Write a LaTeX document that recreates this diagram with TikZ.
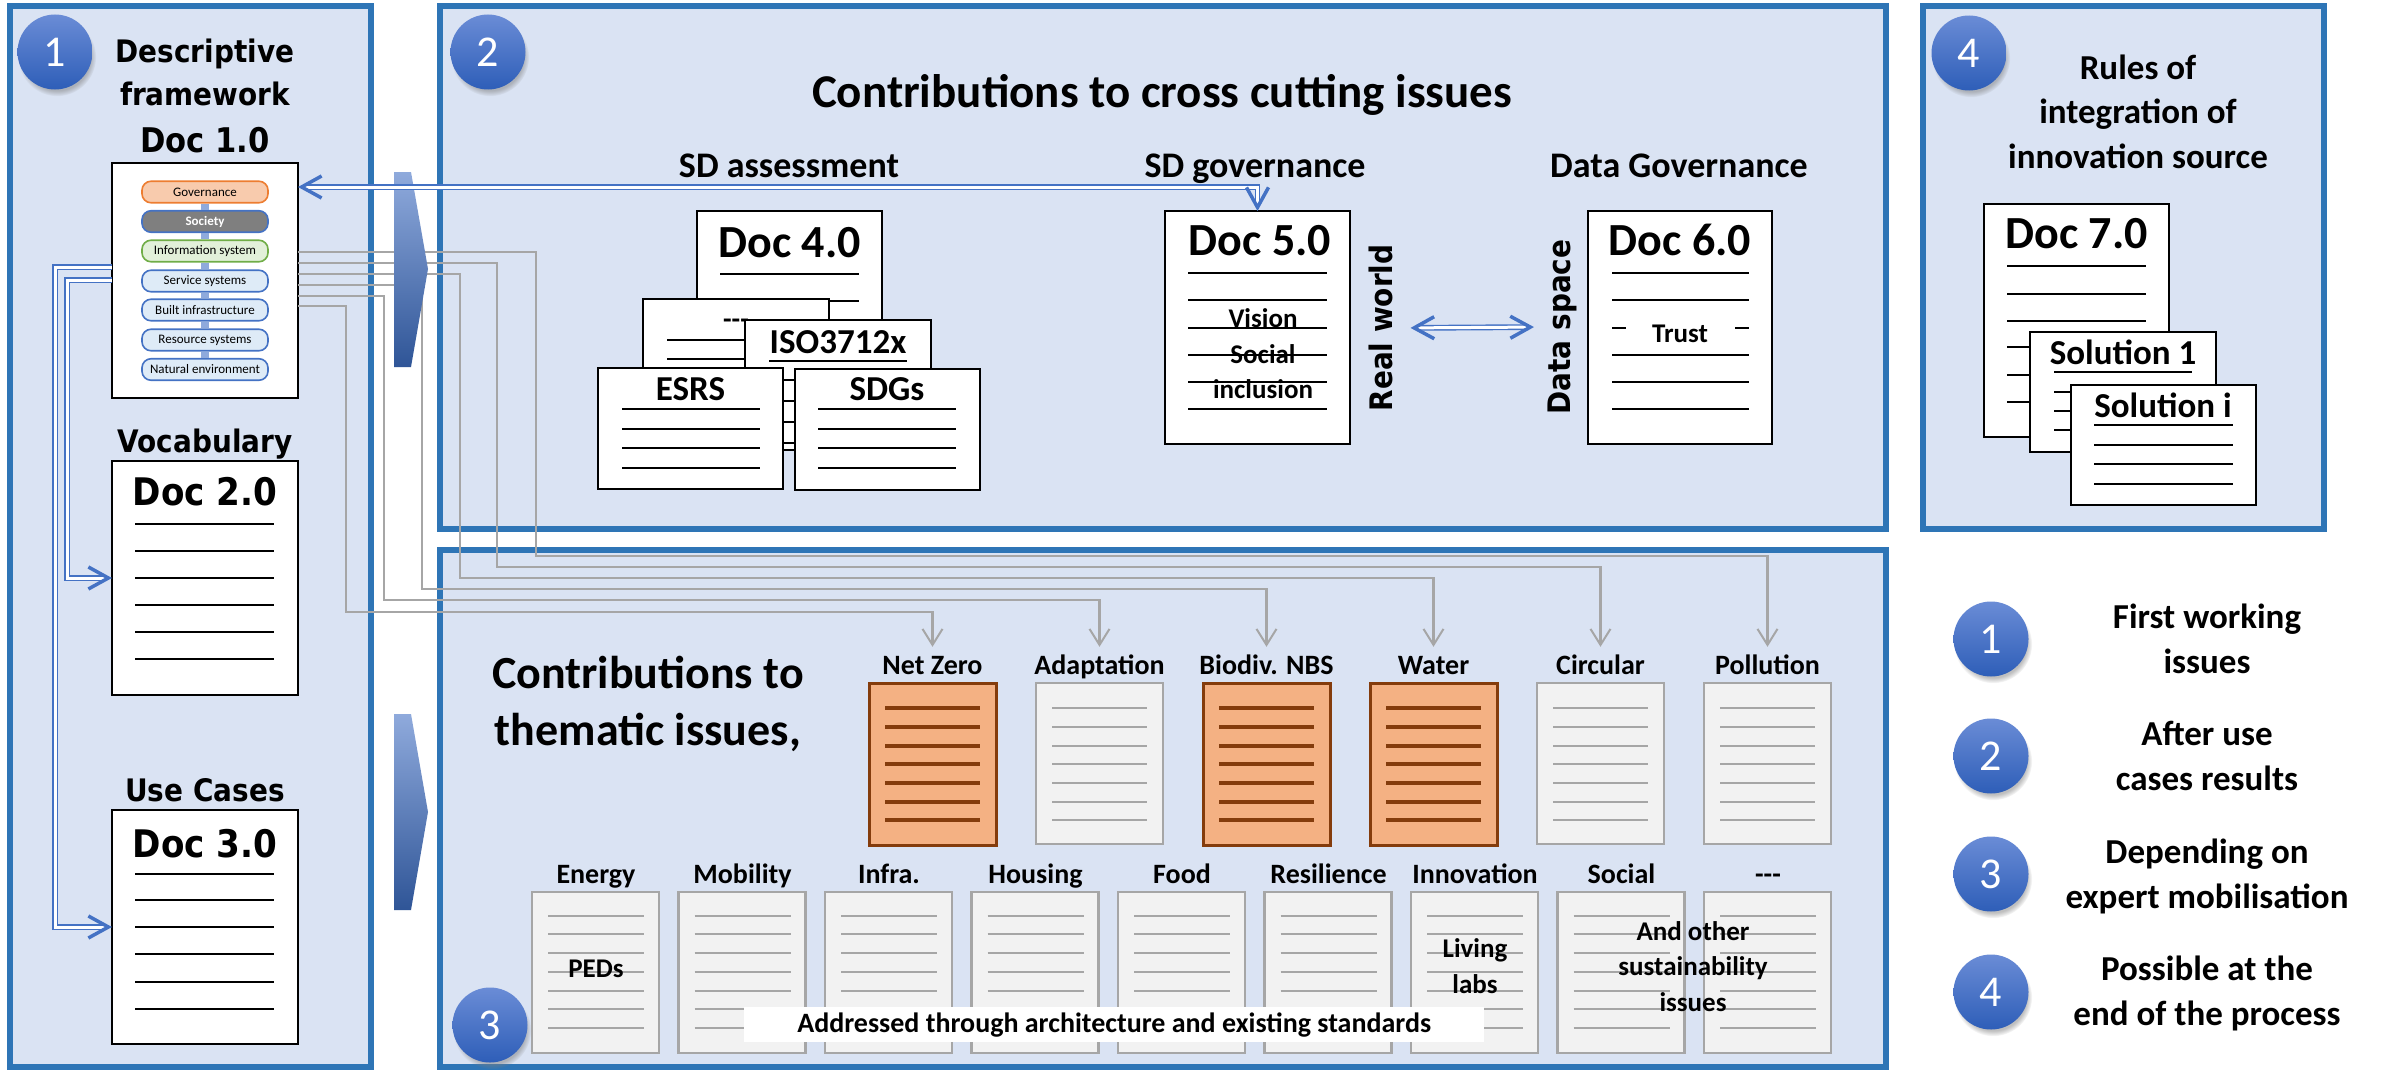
\documentclass[tikz,border=0pt]{standalone}
\usepackage{fontspec}
\setmainfont{Carlito}
\newfontfamily\verd[FakeStretch=0.9]{DejaVu Sans}
\usetikzlibrary{arrows.meta,calc,shadows,fadings}
\definecolor{pfill}{HTML}{DAE3F3}
\definecolor{pblue}{HTML}{2E75B6}
\definecolor{ablue}{HTML}{4472C4}
\definecolor{cgray}{HTML}{A6A6A6}
\definecolor{ofill}{HTML}{F4B183}
\definecolor{obrown}{HTML}{843C0C}
\definecolor{gfill}{HTML}{F2F2F2}
\definecolor{barblue}{HTML}{8FAADC}
\definecolor{chevdark}{HTML}{2F5597}
\definecolor{circtop}{HTML}{6A8CD6}
\definecolor{circbot}{HTML}{2E5EB8}
\definecolor{pillfill}{HTML}{DEEBF7}
\definecolor{govfill}{HTML}{F8CBAD}
\definecolor{govdraw}{HTML}{ED7D31}
\definecolor{socfill}{HTML}{7F7F7F}
\definecolor{infofill}{HTML}{E2F0D9}
\definecolor{infodraw}{HTML}{70AD47}
\newcommand\fsz[2]{\fontsize{#1}{#2}\selectfont}
\newcommand\tdash{\mbox{-}\mbox{-}\mbox{-}}
\begin{document}
\begin{tikzpicture}[x=1pt,y=-1pt,
  panel/.style={draw=pblue,line width=6pt,fill=pfill,inner sep=0pt,outer sep=0pt,anchor=north west},
  docbox/.style={draw=black,line width=2.4pt,fill=white,inner sep=0pt,outer sep=0pt,anchor=north west},
  dline/.style={black,line width=2.4pt},
  numcirc/.style={circle,minimum size=75pt,inner sep=0pt,top color=circtop,bottom color=circbot,text=white,font=\fsz{44}{50},circular drop shadow={shadow xshift=2pt,shadow yshift=-5pt,shadow scale=1.04,opacity=.5}},
  pill/.style={rounded corners=9pt,minimum width=126pt,minimum height=21.5pt,line width=1.6pt,inner sep=0pt,font=\fsz{13}{15},draw=ablue,fill=pillfill},
  obox/.style={draw=obrown,fill=ofill,line width=3pt,minimum width=127pt,minimum height=162pt,inner sep=0pt,outer sep=0pt,anchor=north west},
  obox line/.style={obrown,line width=3.5pt},
  gbox/.style={draw=cgray,fill=gfill,line width=2.5pt,minimum width=127pt,minimum height=161pt,inner sep=0pt,outer sep=0pt,anchor=north west},
  gbox line/.style={cgray,line width=2pt},
  lbl/.style={font=\bfseries\fsz{28}{32},inner xsep=2pt,inner ysep=8pt,text height=19pt,text depth=6pt,anchor=base},
  gconn/.style={cgray,line width=2.2pt,-{Straight Barb[length=16pt,width=20pt,line width=2pt]}},
  bdbl/.style={draw=ablue,line width=1.4pt,double=white,double distance=3pt},
  btip/.tip={Straight Barb[length=20pt,width=22pt,line width=3.5pt]},
  vtitle/.style={font=\verd\bfseries\fsz{31}{43},align=center,anchor=base},
  ctitle/.style={font=\bfseries\fsz{36}{44},align=center,anchor=base},
  dtitle/.style={font=\bfseries\fsz{46}{50},anchor=base},
  stitle/.style={font=\bfseries\fsz{35}{40},anchor=base},
  small/.style={font=\bfseries\fsz{27}{35.5},align=center,anchor=base},
  legend/.style={font=\bfseries\fsz{35}{45},align=center,anchor=base}
]
\fill[white] (0,0) rectangle (2382,1073);
\useasboundingbox (0,0) rectangle (2382,1073);

% panels
\node[panel,minimum width=361pt,minimum height=1061pt] (p1) at (10,6) {};
\node[panel,minimum width=1446pt,minimum height=523pt] (p2) at (440,6) {};
\node[panel,minimum width=1446pt,minimum height=517pt] (p3) at (440,550) {};
\node[panel,minimum width=401pt,minimum height=523pt] (p4) at (1923,6) {};

% ---------- panel 1
\node[vtitle] (t1) at (205,105) {Descriptive\\framework};
\node[font=\verd\bfseries\fsz{34}{40},anchor=base] (doc1t) at (205,152) {Doc 1.0};
\node[docbox,minimum width=186pt,minimum height=235pt] (doc1) at (112,163) {};
\node[pill,fill=govfill,draw=govdraw] (gov) at (205,192) {Governance};
\node[pill,fill=socfill,text=white,font=\bfseries\fsz{13}{15}] (soc) at (205,221.5) {Society};
\node[pill,fill=infofill,draw=infodraw] (info) at (205,251) {Information system};
\node[pill] (serv) at (205,281) {Service systems};
\node[pill] (built) at (205,310) {Built infrastructure};
\node[pill] (res) at (205,340) {Resource systems};
\node[pill] (nat) at (205,369.5) {Natural environment};
\foreach \a/\b in {gov/soc,soc/info,info/serv,serv/built,built/res,res/nat}
  \draw[barblue,line width=8pt] (\a.south) -- (\b.north);

\node[vtitle] (t2) at (205,452) {Vocabulary};
\node[docbox,minimum width=186pt,minimum height=234pt] (doc2) at (112,461) {};
\node[font=\verd\bfseries\fsz{38}{44},anchor=base] (doc2t) at (205,505) {Doc 2.0};
\foreach \y in {524,551,578,605,632,659} \draw[dline] (135,\y) -- (274,\y);

\node[vtitle] (t3) at (205,801) {Use Cases};
\node[docbox,minimum width=186pt,minimum height=234pt] (doc3) at (112,810) {};
\node[font=\verd\bfseries\fsz{38}{44},anchor=base] (doc3t) at (205,857) {Doc 3.0};
\foreach \y in {874,900,927,954,982,1009} \draw[dline] (135,\y) -- (274,\y);

% ---------- panel 2
\node[font=\bfseries\fsz{47}{50},anchor=base] (t4) at (1162,107) {Contributions to cross cutting issues};
\node[ctitle] (t5) at (789,177) {SD assessment};
\node[ctitle] (t6) at (1255,177) {SD governance};
\node[ctitle] (t7) at (1679,177) {Data Governance};

\node[docbox,minimum width=185pt,minimum height=170pt] (doc4) at (697,211) {};
\node[dtitle] (doc4t) at (789.5,257) {Doc 4.0};
\draw[dline] (720,274) -- (859,274);
\draw[dline] (720,301) -- (859,301);
\node[docbox,minimum width=186pt,minimum height=100pt] (docx) at (643,299) {};
\node[font=\bfseries\fsz{28}{32},anchor=base] (docxt) at (736,328) {\tdash};
\draw[dline] (667,340) -- (806,340);
\draw[dline] (667,359) -- (806,359);
\node[docbox,minimum width=186pt,minimum height=130pt] (iso) at (745,320) {};
\node[stitle] (isot) at (838,353) {ISO3712x};
\foreach \y in {361,380,401,422,443} \draw[dline] (769,\y) -- (907,\y);
\node[docbox,minimum width=185pt,minimum height=121pt] (esrs) at (598,368) {};
\node[stitle] (esrst) at (690.5,400) {ESRS};
\foreach \y in {409,429,448,468} \draw[dline] (622,\y) -- (760,\y);
\node[docbox,minimum width=185pt,minimum height=121pt] (sdg) at (795,369) {};
\node[stitle] (sdgt) at (887,400) {SDGs};
\foreach \y in {409,429,448,468} \draw[dline] (818,\y) -- (956,\y);

\node[docbox,minimum width=185pt,minimum height=233pt] (doc5) at (1165,211) {};
\node[dtitle] (doc5t) at (1260,255) {Doc 5.0};
\node[small] (vis) at (1263,327) {Vision};
\node[small] (socl) at (1263,363) {Social};
\node[small] (incl) at (1263,398) {inclusion};
\foreach \y in {273,300,328,355,382,409} \draw[dline] (1188,\y) -- (1327,\y);

\node[docbox,minimum width=184pt,minimum height=233pt] (doc6) at (1588,211) {};
\node[dtitle] (doc6t) at (1680,255) {Doc 6.0};
\foreach \y in {273,300,328,355,382,409} \draw[dline] (1612,\y) -- (1749,\y);
\node[small,fill=white,minimum width=109pt,inner ysep=2pt] (trust) at (1680,342) {Trust};

\node[font=\verd\bfseries\fsz{31}{36},rotate=90] (rw) at (1381,328) {Real world};
\node[font=\verd\bfseries\fsz{31}{36},rotate=90] (ds) at (1562,327) {Data space};

% ---------- panel 4
\node[font=\bfseries\fsz{35}{44.5},align=center,anchor=base] (t8) at (2138,168) {Rules of\\integration of\\innovation source};
\node[docbox,minimum width=185pt,minimum height=233pt] (doc7) at (1984,204) {};
\node[dtitle] (doc7t) at (2076.5,248) {Doc 7.0};
\foreach \y in {266,294,321,347,375,402} \draw[dline] (2007,\y) -- (2146,\y);
\node[docbox,minimum width=186pt,minimum height=120pt] (sol1) at (2030,332) {};
\node[stitle] (sol1t) at (2123,364) {Solution 1};
\foreach \y in {372,392,411,430} \draw[dline] (2054,\y) -- (2192,\y);
\node[docbox,minimum width=185pt,minimum height=120pt] (soli) at (2071,385) {};
\node[stitle] (solit) at (2163,417) {Solution i};
\foreach \y in {425,445,464,484} \draw[dline] (2094,\y) -- (2233,\y);

% ---------- panel 3
\node[font=\bfseries\fsz{46}{57},align=center,anchor=base] (t9) at (648,745) {Contributions to\\thematic issues,};
\foreach \x/\lab/\nm/\st in {869/Net Zero/nz/obox,1036/Adaptation/ad/gbox,1203/Biodiv. NBS/bd/obox,1370/Water/wa/obox,1537/Circular/ci/gbox,1704/Pollution/po/gbox}{
  \node[\st] (\nm) at (\x,683) {};
  \node[lbl] (\nm-l) at (\x+63.5,674) {\lab};
  \foreach \y in {708,727,746,764,783,802,820} \draw[\st\space line] (\x+16,\y) -- (\x+111,\y);
}
\foreach \x/\lab/\nm in {532/Energy/en,678.5/Mobility/mo,825/Infra./inf,971.5/Housing/ho,1118/Food/fo,1264.5/Resilience/re,1411/Innovation/inn,1557.5/Social/so,1704/\tdash/dd}{
  \node[gbox] (\nm) at (\x,892) {};
  \node[lbl] (\nm-l) at (\x+64,883) {\lab};
  \foreach \y in {916,934,953,972,991,1009,1028} \draw[gbox line] (\x+16,\y) -- (\x+112,\y);
}
\node[small] (peds) at (596,977) {PEDs};
\node[small] (liv) at (1475,993) {Living\\labs};
\node[small] (oth) at (1693,1011) {And other\\sustainability\\issues};
\node[fill=white,minimum width=740pt,minimum height=35pt,inner sep=0pt,anchor=north west,font=\bfseries\fsz{28}{32}] (banner) at (744,1007) {Addressed through architecture and existing standards};

% ---------- gray connectors
\coordinate (g1) at (298,252);
\coordinate (g2) at (298,263);
\coordinate (g3) at (298,274);
\coordinate (g4) at (298,285);
\coordinate (g5) at (298,296);
\coordinate (g6) at (298,306);
\draw[gconn] (g1) -| (536,556) -| (po-l.north);
\draw[gconn] (g2) -| (497,567) -| (ci-l.north);
\draw[gconn] (g3) -| (460,578) -| (wa-l.north);
\draw[gconn] (g4) -| (422,589) -| (bd-l.north);
\draw[gconn] (g5) -| (384,600) -| (ad-l.north);
\draw[gconn] (g6) -| (346,612) -| (nz-l.north);

% ---------- chevrons
\shade[top color=barblue,bottom color=chevdark] (394,172) -- (411,172) -- (428,269) -- (411,367) -- (394,367) -- cycle;
\shade[top color=barblue,bottom color=chevdark] (394,714) -- (411,714) -- (428,812) -- (411,910) -- (394,910) -- cycle;

% ---------- blue connectors
\coordinate (d1) at (298,187);
\coordinate (l1) at (112,267);
\coordinate (l2) at (112,280);
\draw[bdbl,btip-btip] (d1) -| (doc5.north);
\draw[bdbl,-btip] (l1) -| ($(doc3.west)+(-57,0)$) -- (doc3.west);
\draw[bdbl,-btip] (l2) -| ($(doc2.west)+(-45,0)$) -- (doc2.west);
\draw[bdbl,btip-btip,shorten <=14pt,shorten >=10pt] (rw.south) -- (ds.north);

% ---------- numbered circles
\node[numcirc] (c1) at (55,52) {1};
\node[numcirc] (c2) at (488,52) {2};
\node[numcirc] (c3) at (490,1025) {3};
\node[numcirc] (c4) at (1969,53) {4};

% ---------- legend
\node[numcirc] (k1) at (1991,639) {1};
\node[numcirc] (k2) at (1991,756) {2};
\node[numcirc] (k3) at (1991,874) {3};
\node[numcirc] (k4) at (1991,992) {4};
\node[legend] (kt1) at (2207,673) {First working\\issues};
\node[legend] (kt2) at (2207,790) {After use\\cases results};
\node[legend] (kt3) at (2207,908) {Depending on\\expert mobilisation};
\node[legend] (kt4) at (2207,1025) {Possible at the\\end of the process};
\end{tikzpicture}
\end{document}
